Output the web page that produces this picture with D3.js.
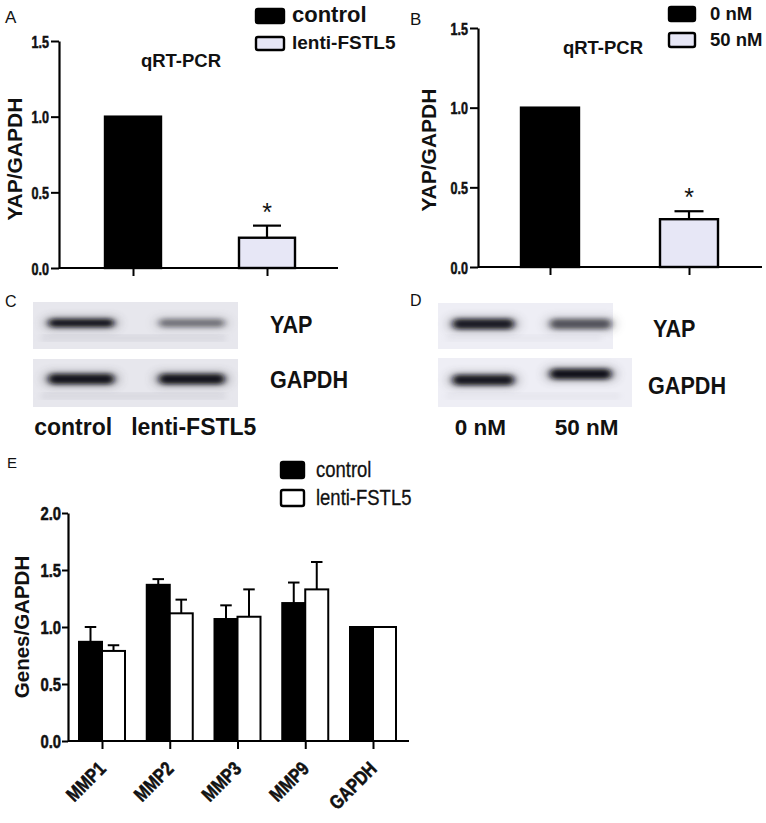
<!DOCTYPE html>
<html>
<head>
<meta charset="utf-8">
<script src="https://cdn.jsdelivr.net/npm/d3@7"></script>
<style>
  body { margin: 0; background: #fff; }
  svg { display: block; }
  text { font-family: "Liberation Sans", Arial, sans-serif; fill: #111; }
  .heavy { stroke: #111; stroke-width: 0.55px; }
</style>
</head>
<body>
<script>
// panel A / B : qRT-PCR of YAP
const panelAcats = ["control", "lenti-FSTL5"];
const panelAvalues = [1.0, 0.2];
const panelAerrors = [0, 0.08];
const panelBcats = ["0 nM", "50 nM"];
const panelBvalues = [1.0, 0.3];
const panelBerrors = [0, 0.05];
const qTicks = [0, 0.5, 1.0, 1.5];

// panel C / D : western blots (relative band strength)
const blotClanes = ["control", "lenti-FSTL5"];
const blotCyap = [0.95, 0.45];
const blotCgapdh = [0.95, 0.95];
const blotDlanes = ["0 nM", "50 nM"];
const blotDyap = [0.9, 0.6];
const blotDgapdh = [0.92, 0.97];

// panel E : MMPs
const genes = ["MMP1", "MMP2", "MMP3", "MMP9", "GAPDH"];
const controlValues = [0.87, 1.37, 1.07, 1.21, 1.0];
const controlErrors = [0.13, 0.05, 0.12, 0.18, 0];
const lentiValues = [0.79, 1.12, 1.09, 1.33, 1.0];
const lentiErrors = [0.05, 0.12, 0.24, 0.24, 0];
const geneTicks = [0, 0.5, 1.0, 1.5, 2.0];

const lav = "#e7e7f6";

const svg = d3.select("body").append("svg").attr("width", 766).attr("height", 823);

const defs = svg.append("defs");
defs.append("filter").attr("id", "blur").attr("x", "-30%").attr("y", "-100%").attr("width", "160%").attr("height", "300%")
  .append("feGaussianBlur").attr("stdDeviation", "3 2.2");
defs.append("filter").attr("id", "blurWide").attr("x", "-30%").attr("y", "-100%").attr("width", "160%").attr("height", "300%")
  .append("feGaussianBlur").attr("stdDeviation", "6 4");
defs.append("filter").attr("id", "soft").append("feGaussianBlur").attr("stdDeviation", 3);

// no narrow font installed, so squeeze text horizontally
function condense(sel, k) {
  sel.each(function () {
    const t = d3.select(this);
    const x = +t.attr("x") || 0;
    t.attr("x", x / k).attr("transform", `scale(${k},1)`);
  });
}

function panelLetter(txt, x, y, size) {
  svg.append("text").attr("x", x).attr("y", y).text(txt).style("font-size", size + "px");
}

function styleAxis(g) {
  g.select(".domain").attr("stroke", "#000").attr("stroke-width", 2.2);
  g.selectAll(".tick line").attr("stroke", "#000").attr("stroke-width", 2);
}

// ---------- qRT-PCR panels ----------
function qpcrPanel(opt) {
  const y = d3.scaleLinear().domain([0, 1.5]).range([opt.y0, opt.y1]);
  const x = d3.scalePoint().domain(opt.cats).range([opt.c0, opt.c1]);
  const g = svg.append("g");

  const yAxis = g.append("g").attr("transform", `translate(${opt.ax},0)`)
    .call(d3.axisLeft(y).tickValues(qTicks).tickFormat(d3.format(".1f")).tickSize(8).tickPadding(2).tickSizeOuter(0));
  styleAxis(yAxis);
  yAxis.selectAll("text").attr("class", "heavy").style("font-size", "17px").style("font-weight", "bold")
    .style("font-family", "'Liberation Sans', Arial").attr("dy", "0.36em").attr("fill", "#111");
  condense(yAxis.selectAll("text"), 0.74);

  const xAxis = g.append("g").attr("transform", `translate(0,${opt.y0})`)
    .call(d3.axisBottom(x).tickSize(8).tickFormat("").tickSizeOuter(0));
  styleAxis(xAxis);
  xAxis.select(".domain").attr("d", `M${opt.ax},0H${opt.axEnd}`);

  const data = opt.cats.map((c, i) => ({ c, v: opt.values[i], e: opt.errors[i], i }));
  const bw = opt.bw;
  // error bars (upper only)
  const err = g.selectAll("g.err").data(data.filter(d => d.e > 0)).enter().append("g");
  err.append("line").attr("x1", d => x(d.c)).attr("x2", d => x(d.c))
    .attr("y1", d => y(d.v)).attr("y2", d => y(d.v + d.e)).attr("stroke", "#000").attr("stroke-width", 2.2);
  err.append("line").attr("x1", d => x(d.c) - bw / 4).attr("x2", d => x(d.c) + bw / 4)
    .attr("y1", d => y(d.v + d.e)).attr("y2", d => y(d.v + d.e)).attr("stroke", "#000").attr("stroke-width", 2.2);

  g.selectAll("rect.bar").data(data).enter().append("rect")
    .attr("x", d => x(d.c) - bw / 2).attr("width", bw)
    .attr("y", d => y(d.v)).attr("height", d => y(0) - y(d.v))
    .attr("fill", d => d.i === 0 ? "#000" : lav)
    .attr("stroke", "#000").attr("stroke-width", 2.4);

  g.selectAll("text.star").data(data.filter(d => d.e > 0)).enter().append("text")
    .attr("x", d => x(d.c)).attr("y", d => y(d.v + d.e) - 5)
    .attr("text-anchor", "middle").style("font-size", "25px").text("*");

  g.append("text").attr("x", opt.titleX).attr("y", opt.titleY).attr("text-anchor", "middle")
    .style("font-size", "18.5px").style("font-weight", "bold").text("qRT-PCR");

  g.append("text").attr("transform", `translate(${opt.labX},${opt.labY}) rotate(-90)`)
    .attr("text-anchor", "middle").style("font-size", "21px").style("font-weight", "bold").text("YAP/GAPDH");

  // legend
  const lg = g.append("g");
  opt.cats.forEach((c, i) => {
    const ly = opt.legY[i];
    lg.append("rect").attr("x", opt.legX).attr("y", ly).attr("width", opt.legW).attr("height", opt.legH[i])
      .attr("rx", 2).attr("fill", i === 0 ? "#000" : lav).attr("stroke", "#000").attr("stroke-width", 2.4);
    lg.append("text").attr("x", opt.legTextX).attr("y", ly + opt.legH[i] - 1)
      .style("font-size", opt.legFont[i] + "px").style("font-weight", "bold").text(c);
  });
}

qpcrPanel({
  cats: panelAcats, values: panelAvalues, errors: panelAerrors,
  y0: 268, y1: 41, ax: 59, axEnd: 338, c0: 133, c1: 267, bw: 56,
  titleX: 181, titleY: 67, labX: 22, labY: 159,
  legX: 256, legY: [9, 37], legW: 28, legH: [14, 13], legTextX: 292, legFont: [22, 19]
});
qpcrPanel({
  cats: panelBcats, values: panelBvalues, errors: panelBerrors,
  y0: 267, y1: 28, ax: 478, axEnd: 762, c0: 550, c1: 689, bw: 58,
  titleX: 603, titleY: 54, labX: 436, labY: 150,
  legX: 669, legY: [7, 33], legW: 26, legH: [14, 14], legTextX: 710, legFont: [18.5, 18.5]
});
panelLetter("A", 5, 23, 17);
panelLetter("B", 410, 25, 17);

// ---------- western blots ----------
function blot(opt) {
  const x = d3.scaleBand().domain(opt.lanes).range([opt.x0, opt.x1]).paddingInner(opt.pad).paddingOuter(0.05);
  const g = svg.append("g");
  opt.rows.forEach(r => {
    g.append("rect").attr("x", opt.x0 - 4).attr("y", r.top).attr("width", r.w).attr("height", r.h).attr("fill", opt.bg);
    // faint smears
    g.append("rect").attr("x", opt.x0 + 4).attr("y", r.top + r.h - 14).attr("width", r.w - 20).attr("height", 6)
      .attr("fill", "#c9c9d2").attr("opacity", opt.smear).attr("filter", "url(#soft)");
    const bands = opt.lanes.map((l, i) => ({ l, s: r.values[i], i }));
    g.selectAll(null).data(bands).enter().append("rect")
      .attr("x", d => x(d.l) + 2).attr("width", x.bandwidth() - 4)
      .attr("y", d => r.cy - r.bh / 2 - 2 - (r.tilt ? d.i * r.tilt : 0)).attr("height", r.bh + 4).attr("rx", 6)
      .attr("fill", "#3a3a40").attr("opacity", d => d.s * 0.45).attr("filter", "url(#blurWide)");
    g.selectAll(null).data(bands).enter().append("rect")
      .attr("x", d => x(d.l) + 6).attr("width", x.bandwidth() - 12)
      .attr("y", d => r.cy - r.bh / 2 - (r.tilt ? d.i * r.tilt : 0)).attr("height", r.bh).attr("rx", 5)
      .attr("fill", "#0d0d12").attr("opacity", d => d.s).attr("filter", "url(#blur)");
    const lab = g.append("text").attr("x", r.labX).attr("y", r.labY).style("font-size", "24px").style("font-weight", "bold")
      .text(r.name);
    condense(lab, 0.9);
  });
  g.selectAll("text.lane").data(opt.lanes).enter().append("text")
    .attr("x", (d, i) => x(d) + x.bandwidth() / 2 + opt.labShift[i]).attr("y", 435).attr("text-anchor", "middle")
    .style("font-size", opt.labFont + "px").style("font-weight", "bold").text(d => d);
}

blot({
  lanes: blotClanes, x0: 37, x1: 236, pad: 0.3, bg: "#e7e7ed", smear: 0.6, labShift: [-8, 2], labFont: 23,
  rows: [
    { name: "YAP", values: blotCyap, top: 302, h: 47, w: 205, cy: 323, bh: 8, labX: 270, labY: 333 },
    { name: "GAPDH", values: blotCgapdh, top: 359, h: 48, w: 205, cy: 379, bh: 10, labX: 270, labY: 388 }
  ]
});
blot({
  lanes: blotDlanes, x0: 442, x1: 622, pad: 0.25, bg: "#eeeef5", smear: 0.25, labShift: [-3, 6], labFont: 22.5,
  rows: [
    { name: "YAP", values: blotDyap, top: 303, h: 46, w: 175, cy: 324, bh: 10, labX: 653, labY: 337 },
    { name: "GAPDH", values: blotDgapdh, top: 358, h: 49, w: 194, cy: 380, bh: 10, tilt: 6, labX: 648, labY: 394 }
  ]
});
panelLetter("C", 5, 307, 16);
panelLetter("D", 410, 306, 16);

// ---------- panel E ----------
{
  const y = d3.scaleLinear().domain([0, 2]).range([741, 513]);
  const x = d3.scalePoint().domain(genes).range([102, 373]);
  const bw = 23;
  const g = svg.append("g");

  const yAxis = g.append("g").attr("transform", "translate(68,0)")
    .call(d3.axisLeft(y).tickValues(geneTicks).tickFormat(d3.format(".1f")).tickSize(6).tickPadding(1).tickSizeOuter(0));
  styleAxis(yAxis);
  yAxis.selectAll("text").attr("class", "heavy").style("font-size", "19px").style("font-weight", "bold")
    .style("font-family", "'Liberation Sans', Arial").attr("dy", "0.36em").attr("fill", "#111");
  condense(yAxis.selectAll("text"), 0.78);

  const xAxis = g.append("g").attr("transform", "translate(0,741)")
    .call(d3.axisBottom(x).tickSize(8).tickFormat("").tickSizeOuter(0));
  styleAxis(xAxis);
  xAxis.select(".domain").attr("d", "M68,0H409");

  const series = [
    { key: "control", values: controlValues, errors: controlErrors, fill: "#000", off: -bw },
    { key: "lenti-FSTL5", values: lentiValues, errors: lentiErrors, fill: "#fff", off: 0 }
  ];
  series.forEach(s => {
    const data = genes.map((gname, i) => ({ gname, v: s.values[i], e: s.errors[i] }));
    const err = g.selectAll(null).data(data.filter(d => d.e > 0)).enter().append("g");
    err.append("line").attr("x1", d => x(d.gname) + s.off + bw / 2).attr("x2", d => x(d.gname) + s.off + bw / 2)
      .attr("y1", d => y(d.v)).attr("y2", d => y(d.v + d.e)).attr("stroke", "#000").attr("stroke-width", 2);
    err.append("line").attr("x1", d => x(d.gname) + s.off + bw / 4).attr("x2", d => x(d.gname) + s.off + bw * 3 / 4)
      .attr("y1", d => y(d.v + d.e)).attr("y2", d => y(d.v + d.e)).attr("stroke", "#000").attr("stroke-width", 2);
  });
  series.forEach(s => {
    const data = genes.map((gname, i) => ({ gname, v: s.values[i] }));
    g.selectAll(null).data(data).enter().append("rect")
      .attr("x", d => x(d.gname) + s.off).attr("width", bw)
      .attr("y", d => y(d.v)).attr("height", d => y(0) - y(d.v))
      .attr("fill", s.fill).attr("stroke", "#000").attr("stroke-width", 2);
  });

  g.selectAll("text.xl").data(genes).enter().append("text").attr("class", "heavy")
    .attr("transform", d => `translate(${x(d) + 5},770) rotate(-45) scale(0.82,1)`)
    .attr("text-anchor", "end").style("font-size", "19.5px").style("font-weight", "bold").text(d => d);

  g.append("text").attr("transform", "translate(29,627) rotate(-90)").attr("text-anchor", "middle")
    .style("font-size", "20.5px").style("font-weight", "bold").text("Genes/GAPDH");

  series.forEach((s, i) => {
    const ly = [462, 490][i];
    g.append("rect").attr("x", 281).attr("y", ly).attr("width", 23).attr("height", 16).attr("rx", 2)
      .attr("fill", s.fill).attr("stroke", "#000").attr("stroke-width", 2.4);
    const t = g.append("text").attr("x", 316).attr("y", ly + 15).style("font-size", "22px")
      .style("stroke", "#111").style("stroke-width", "0.3px").text(s.key);
    condense(t, 0.84);
  });
  panelLetter("E", 7, 468, 15);
}
</script>
</body>
</html>
